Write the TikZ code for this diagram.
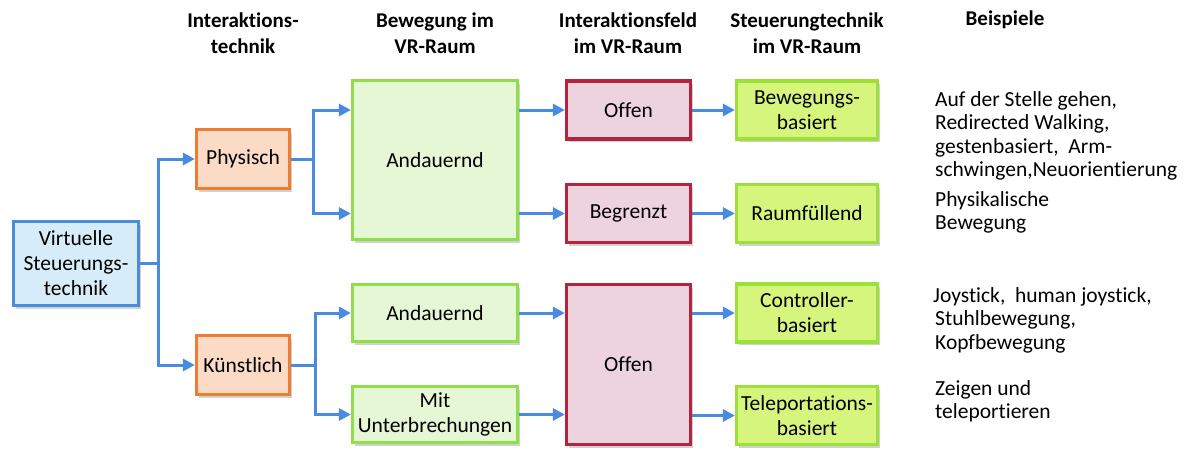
\documentclass[tikz,border=0pt]{standalone}
\usepackage{fontspec}
\setmainfont[Ligatures=NoCommon]{Carlito}
\usetikzlibrary{arrows.meta,shadows}

\definecolor{link}{HTML}{4A8BE2}
\definecolor{rootline}{HTML}{4A8EDB}
\definecolor{rootfill}{HTML}{D6ECF8}
\definecolor{kindline}{HTML}{ED7D31}
\definecolor{kindfill}{HTML}{FBDAC6}
\definecolor{moveline}{HTML}{8EDF48}
\definecolor{movefill}{HTML}{E6F7D6}
\definecolor{fieldline}{HTML}{B5243F}
\definecolor{fieldfill}{HTML}{EDD3DE}
\definecolor{ctrlline}{HTML}{9EE03A}
\definecolor{ctrlfill}{HTML}{D6F57C}

\begin{document}
\begin{tikzpicture}[x=1pt,y=-1pt,
  font=\fontsize{21.5}{25}\selectfont,
  box/.style={draw, line width=3.2pt, align=center, inner sep=0pt,
    drop shadow={shadow xshift=2pt, shadow yshift=-3pt, opacity=0.18, fill=black}},
  rootbox/.style={box, draw=rootline, fill=rootfill},
  kindbox/.style={box, draw=kindline, fill=kindfill, minimum width=93pt, minimum height=59pt},
  movebox/.style={box, draw=moveline, fill=movefill, minimum width=165pt},
  fieldbox/.style={box, draw=fieldline, fill=fieldfill, minimum width=124pt},
  ctrlbox/.style={box, draw=ctrlline, fill=ctrlfill, minimum width=141pt, minimum height=58pt},
  head/.style={font=\fontsize{21}{26}\selectfont\bfseries, align=center},
  note/.style={font=\fontsize{21.5}{23.5}\selectfont, align=left, anchor=west, inner sep=0pt},
  arr/.style={draw=link, line width=3pt, -{Triangle[length=12pt,width=12pt]}},
  ln/.style={draw=link, line width=3pt}
]
\useasboundingbox (0,0) rectangle (1188,451);

% column headings
\node[head] (h1) at (243,33.5) {Interaktions-\\technik};
\node[head] (h2) at (435,33.5) {Bewegung im\\VR-Raum};
\node[head] (h3) at (628,33.5) {Interaktionsfeld\\im VR-Raum};
\node[head] (h4) at (807,33.5) {Steuerungtechnik\\im VR-Raum};
\node[head] (h5) at (1005,20) {Beispiele};

% boxes
\node[rootbox, minimum width=125pt, minimum height=84pt] (vst) at (76,263.5) {Virtuelle\\Steuerungs-\\technik};
\node[kindbox] (phy) at (243,159) {Physisch};
\node[kindbox] (kue) at (243,365) {Künstlich};

\node[movebox, minimum height=159pt] (and1) at (435,160) {Andauernd};
\node[movebox, minimum height=57pt] (and2) at (435,313) {Andauernd};
\node[movebox, minimum height=56pt] (mit) at (435,414.5) {Mit\\Unterbrechungen};

\node[fieldbox, minimum height=58pt] (off1) at (628.5,110) {Offen};
\node[fieldbox, minimum height=58pt] (beg) at (628.5,213.5) {Begrenzt};
\node[fieldbox, minimum height=160pt] (off2) at (628.5,364.5) {Offen};

\node[ctrlbox] (bew) at (807,110) {Bewegungs-\\basiert};
\node[ctrlbox] (rau) at (807,213.5) {Raumfüllend};
\node[ctrlbox] (con) at (807,313) {Controller-\\basiert};
\node[ctrlbox] (tel) at (807,415.5) {Teleportations-\\basiert};

% branches
\coordinate (b0) at (158,263.5);
\draw[ln] (vst.east) -- (b0);
\draw[arr] (b0) |- (phy.west);
\draw[arr] (b0) |- (kue.west);

\coordinate (b1) at (313,159);
\draw[ln] (phy.east) -- (b1);
\draw[arr] (b1) |- (and1.west |- off1.west);
\draw[arr] (b1) |- (and1.west |- beg.west);

\coordinate (b2) at (315,365);
\draw[ln] (kue.east) -- (b2);
\draw[arr] (b2) |- (and2.west);
\draw[arr] (b2) |- (mit.west);

\draw[arr] (and1.east |- off1.west) -- (off1.west);
\draw[arr] (and1.east |- beg.west) -- (beg.west);
\draw[arr] (off1.east) -- (bew.west);
\draw[arr] (beg.east) -- (rau.west);

\draw[arr] (and2.east) -- (off2.west |- and2.east);
\draw[arr] (mit.east) -- (off2.west |- mit.east);
\draw[arr] (off2.east |- con.west) -- (con.west);
\draw[arr] (off2.east |- tel.west) -- (tel.west);

% examples
\node[note] (e1) at (935,136) {Auf der Stelle gehen,\\Redirected Walking,\\gestenbasiert,\ \ Arm-\\schwingen,Neuorientierung};
\node[note] (e2) at (935,212.5) {Physikalische\\Bewegung};
\node[note] (e3) at (933,320) {Joystick,\ \ human joystick,\\\hspace*{2pt}Stuhlbewegung,\\\hspace*{2pt}Kopfbewegung};
\node[note] (e4) at (935,401.5) {Zeigen und\\teleportieren};
\end{tikzpicture}
\end{document}
